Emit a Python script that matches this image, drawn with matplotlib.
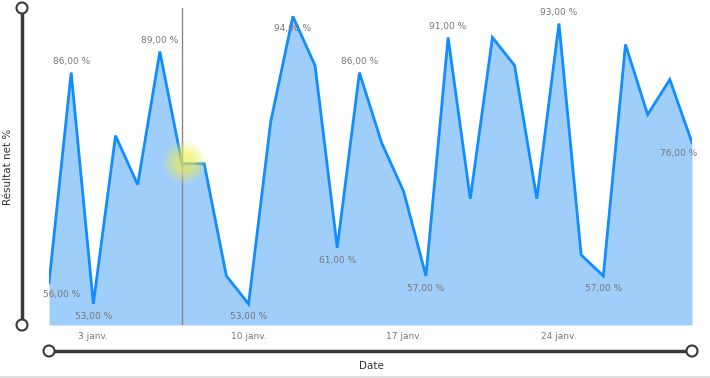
import matplotlib.pyplot as plt
from matplotlib.patches import Circle
from matplotlib.lines import Line2D

# days of January (Date axis)
days = list(range(1, 31))
# Résultat net % for each day
values = [56, 86, 53, 77, 70, 89, 73, 73, 57, 53,
          79, 94, 87, 61, 86, 76, 69, 57, 91, 68,
          91, 87, 68, 93, 60, 57, 90, 80, 85, 76]

tick_days = [3, 10, 17, 24]
tick_labels = ["3 janv.", "10 janv.", "17 janv.", "24 janv."]

# data labels: (day, placement)
labelled = [(1, "below_l"), (2, "above"), (3, "below"), (6, "above"),
            (10, "below"), (12, "below"), (14, "below"), (15, "above"),
            (18, "below"), (19, "above"), (24, "above"), (26, "below"),
            (30, "below_r")]

line_col = "#118DFF"
fill_col = "#A0CEFA"
text_col = "#777777"

W, H = 710, 378
fig = plt.figure(figsize=(W / 100, H / 100), dpi=100)
ax = fig.add_axes([49 / W, 1 - 325 / H, 643 / W, 317 / H])

ax.fill_between(days, values, 50, color=fill_col, lw=0, zorder=1)
ax.plot(days, values, color=line_col, lw=2.0, solid_joinstyle="miter", zorder=3)
ax.set_xlim(days[0], days[-1])
ax.set_ylim(50, 95.2)

for d, pos in labelled:
    v = values[d - 1]
    txt = f"{v},00 %"
    if pos == "above":
        ax.annotate(txt, (d, v), xytext=(0, 8), textcoords="offset points",
                    ha="center", va="center", fontsize=6.5, color=text_col)
    elif pos == "below":
        ax.annotate(txt, (d, v), xytext=(0, -9), textcoords="offset points",
                    ha="center", va="center", fontsize=6.5, color=text_col)
    elif pos == "below_l":
        ax.annotate(txt, (d, v), xytext=(-4, -8), textcoords="offset points",
                    ha="left", va="center", fontsize=6.5, color=text_col)
    else:
        ax.annotate(txt, (d, v), xytext=(4, -8), textcoords="offset points",
                    ha="right", va="center", fontsize=6.5, color=text_col)

# hover line and cursor highlight
ax.axvline(7, color="#888888", lw=1, zorder=4)
for r, a in [(900, 0.15), (650, 0.2), (420, 0.25), (220, 0.3)]:
    ax.scatter([7.1], [73.3], s=r, color="#EEEE50", alpha=a, lw=0, zorder=5)

ax.set_xticks(tick_days)
ax.set_xticklabels(tick_labels, fontsize=6.5, color=text_col)
ax.tick_params(axis="x", length=0, pad=5)
ax.set_yticks([])
for s in ax.spines.values():
    s.set_visible(False)

# slider decorations in pixel space
ov = fig.add_axes([0, 0, 1, 1], zorder=-1)
ov.set_xlim(0, W)
ov.set_ylim(H, 0)
ov.axis("off")
ov.add_line(Line2D([22, 22], [8, 325], color="#3a3a3a", lw=2.5))
ov.add_line(Line2D([49, 692], [351, 351], color="#3a3a3a", lw=2.5))
for cx, cy in [(22, 8), (22, 325), (49, 351), (692, 351)]:
    ov.add_patch(Circle((cx, cy), 5.5, facecolor="white", edgecolor="#3a3a3a", lw=1.5, zorder=3))
ov.add_line(Line2D([0, W], [376.5, 376.5], color="#dddddd", lw=1.5))

fig.text(8 / W, 1 - 167 / H, "Résultat net %", rotation=90, ha="center", va="center",
         fontsize=7.5, color="#333333")
fig.text(371 / W, 1 - 366 / H, "Date", ha="center", va="center", fontsize=7.5, color="#333333")

fig.savefig("out.png", dpi=100)
